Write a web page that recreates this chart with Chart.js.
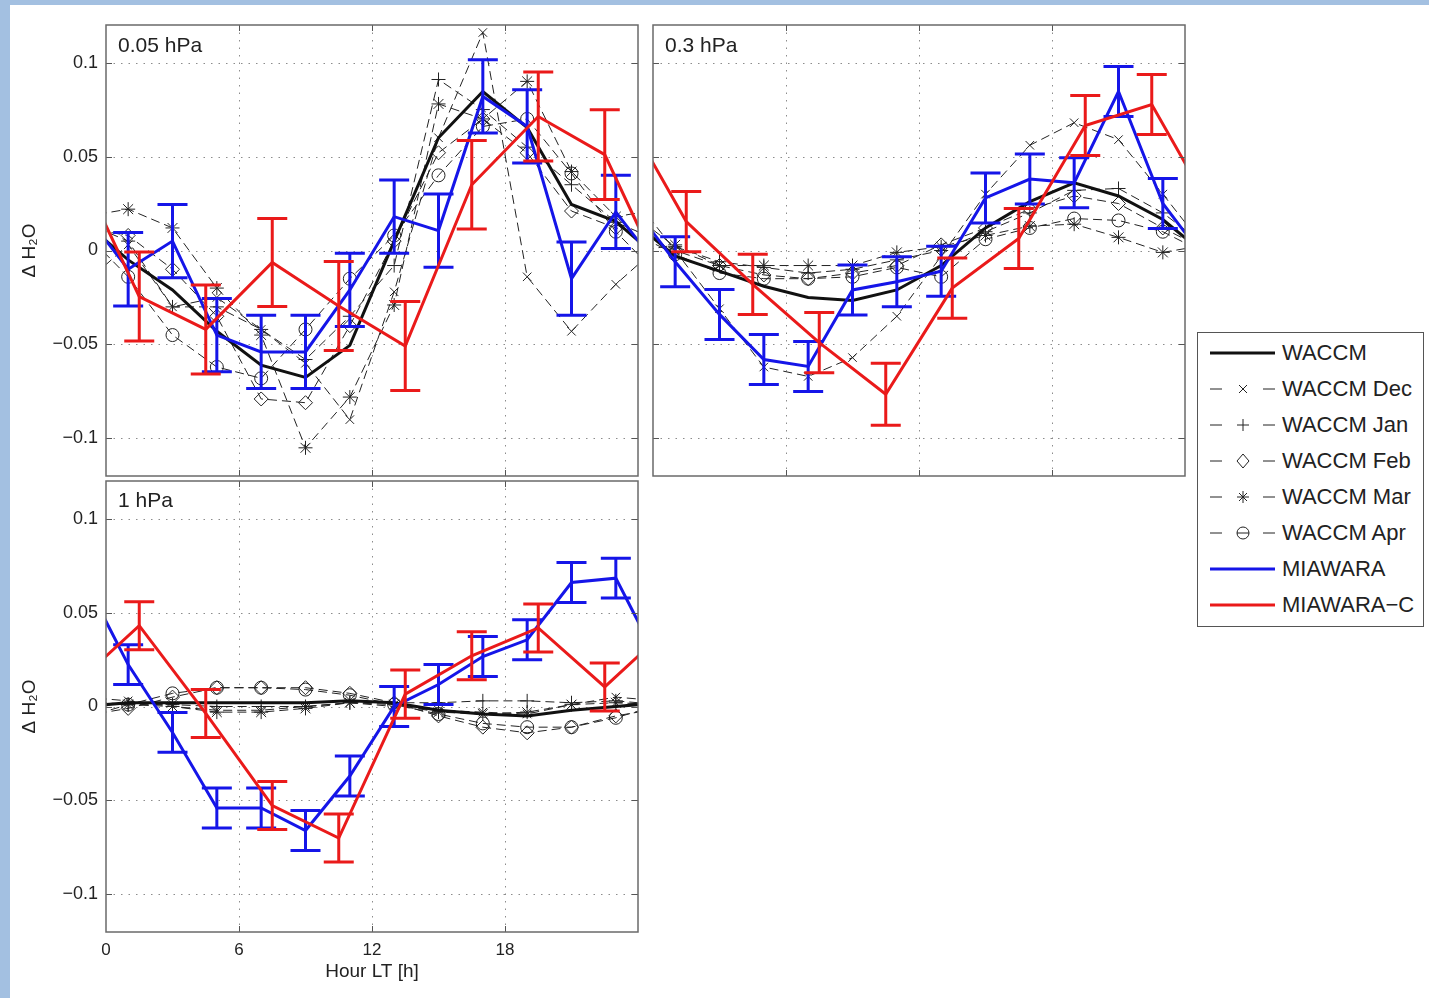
<!DOCTYPE html>
<html>
<head>
<meta charset="utf-8">
<script src="https://cdn.jsdelivr.net/npm/chart.js@4.4.1/dist/chart.umd.min.js"></script>
<style>
html, body { margin: 0; padding: 0; }
body { width: 1429px; height: 998px; background: #a3c0e1; position: relative; overflow: hidden;
       font-family: "Liberation Sans", Arial, sans-serif; color: #222; }
#sheet { position: absolute; left: 10px; top: 5px; right: 0; bottom: 0; background: #fff; }
canvas { position: absolute; }
.plabel { position: absolute; font-size: 21px; line-height: 24px; }
#legend { position: absolute; left: 1197px; top: 332px; width: 227px; height: 295px; box-sizing: border-box;
          border: 1px solid #555; background: #fff; }
#legend .row { position: absolute; left: 12px; height: 36px; display: flex; align-items: center;
               font-size: 22px; white-space: nowrap; }
#legend svg { display: block; margin-right: 2px; }
</style>
</head>
<body>
<div id="sheet"></div>
<canvas id="c05"></canvas>
<canvas id="c3"></canvas>
<canvas id="c1"></canvas>
<div class="plabel" style="left:118px; top:33px;">0.05 hPa</div>
<div class="plabel" style="left:665px; top:33px;">0.3 hPa</div>
<div class="plabel" style="left:118px; top:488px;">1 hPa</div>
<div id="legend"></div>

<script>
// hours of the samples
var hoursW = [1, 3, 5, 7, 9, 11, 13, 15, 17, 19, 21, 23];
var hoursC = [1.5, 4.5, 7.5, 10.5, 13.5, 16.5, 19.5, 22.5];
var yTicks = [-0.1, -0.05, 0, 0.05, 0.1];

// 0.05 hPa
var waccm05 = [-0.005, -0.021, -0.043, -0.061, -0.0675, -0.0505, 0.005, 0.060, 0.0846, 0.0654, 0.0245, 0.0155];
var dec05 = [0.003, -0.030, -0.025, -0.042, -0.060, -0.090, -0.022, 0.060, 0.116, -0.014, -0.043, -0.018];
var jan05 = [0.005, -0.030, -0.030, -0.042, -0.058, -0.035, -0.008, 0.091, 0.075, 0.055, 0.035, 0.015];
var feb05 = [0.008, -0.010, -0.035, -0.079, -0.081, -0.040, 0.005, 0.052, 0.070, 0.052, 0.021, 0.012];
var mar05 = [0.022, 0.012, -0.020, -0.045, -0.105, -0.078, -0.029, 0.078, 0.070, 0.090, 0.042, 0.018];
var apr05 = [-0.014, -0.045, -0.062, -0.068, -0.042, -0.015, 0.008, 0.040, 0.066, 0.070, 0.041, 0.010];
var mia05 = [-0.010, 0.005, -0.045, -0.054, -0.054, -0.021, 0.018, 0.0106, 0.082, 0.066, -0.015, 0.0205];
var mia05Err = [0.0196, 0.0195, 0.0195, 0.0195, 0.0195, 0.0195, 0.0195, 0.0195, 0.0195, 0.0195, 0.0195, 0.0195];
var miac05 = [-0.0245, -0.042, -0.0064, -0.0295, -0.0508, 0.035, 0.0713, 0.051];
var miac05Err = [0.0237, 0.0237, 0.0234, 0.0237, 0.0237, 0.0235, 0.0237, 0.0239];

// 0.3 hPa
var waccm3 = [-0.003, -0.011, -0.019, -0.025, -0.0266, -0.021, -0.008, 0.012, 0.026, 0.036, 0.029, 0.0165];
var dec3 = [0.000, -0.031, -0.062, -0.067, -0.057, -0.035, -0.003, 0.030, 0.056, 0.068, 0.059, 0.030];
var jan3 = [0.002, -0.006, -0.009, -0.012, -0.010, -0.005, 0.000, 0.010, 0.020, 0.032, 0.033, 0.020];
var feb3 = [0.000, -0.008, -0.013, -0.015, -0.012, -0.008, 0.003, 0.012, 0.022, 0.029, 0.025, 0.012];
var mar3 = [0.003, -0.008, -0.008, -0.008, -0.008, -0.001, 0.002, 0.008, 0.013, 0.014, 0.007, -0.001];
var apr3 = [-0.002, -0.012, -0.015, -0.015, -0.014, -0.009, -0.014, 0.006, 0.012, 0.017, 0.016, 0.010];
var mia3 = [-0.006, -0.034, -0.058, -0.0617, -0.021, -0.0166, -0.011, 0.028, 0.038, 0.036, 0.0846, 0.025];
var mia3Err = [0.0133, 0.0133, 0.0133, 0.0133, 0.0133, 0.0133, 0.0133, 0.0133, 0.0133, 0.0133, 0.0133, 0.0133];
var miac3 = [0.0154, -0.018, -0.049, -0.0765, -0.020, 0.0064, 0.0665, 0.0777];
var miac3Err = [0.016, 0.016, 0.016, 0.0165, 0.016, 0.016, 0.016, 0.016];

// 1 hPa
var waccm1 = [0.002, 0.002, 0.002, 0.002, 0.002, 0.003, 0.002, -0.002, -0.004, -0.005, -0.002, 0.000];
var dec1 = [0.003, 0.000, -0.002, -0.002, 0.000, 0.002, 0.000, -0.002, -0.003, -0.004, 0.001, 0.005];
var jan1 = [0.001, 0.001, 0.000, 0.000, 0.000, 0.002, 0.002, 0.002, 0.003, 0.003, 0.002, 0.003];
var feb1 = [-0.001, 0.005, 0.010, 0.010, 0.010, 0.007, 0.002, -0.005, -0.011, -0.014, -0.011, -0.005];
var mar1 = [0.001, 0.000, -0.003, -0.003, -0.001, 0.002, 0.001, -0.003, -0.004, -0.003, 0.001, 0.002];
var apr1 = [0.001, 0.007, 0.010, 0.010, 0.009, 0.006, 0.001, -0.004, -0.009, -0.011, -0.011, -0.006];
var mia1 = [0.0223, -0.0138, -0.054, -0.054, -0.066, -0.037, 0.000, 0.0117, 0.0266, 0.0355, 0.066, 0.0683];
var mia1Err = [0.0106, 0.0106, 0.0106, 0.0106, 0.0106, 0.0106, 0.0106, 0.0106, 0.0106, 0.0106, 0.0106, 0.0106];
var miac1 = [0.043, -0.0037, -0.0527, -0.070, 0.0066, 0.027, 0.0418, 0.0104];
var miac1Err = [0.0128, 0.0128, 0.0128, 0.0128, 0.0128, 0.0128, 0.0128, 0.0128];

var FONT = '"Liberation Sans", Arial, sans-serif';
var BLUE = '#1515e8';
var RED = '#ea1a1a';
var MONTH_COLOR = '#222';

var months = [
    { name: 'WACCM Dec', style: 'crossRot', r: 6 },
    { name: 'WACCM Jan', style: 'cross', r: 7 },
    { name: 'WACCM Feb', style: 'rectRot', r: 7 },
    { name: 'WACCM Mar', style: 'star', r: 7 },
    { name: 'WACCM Apr', style: 'circle', r: 6.5 }
];

// the day is periodic: repeat the last/first sample one day earlier/later
function periodic(hours, vals) {
    var n = hours.length;
    var pts = [{ x: hours[n - 1] - 24, y: vals[n - 1] }];
    hours.forEach(function (h, i) { pts.push({ x: h, y: vals[i] }); });
    pts.push({ x: hours[0] + 24, y: vals[0] });
    return pts;
}

function buildDatasets(waccm, monthVals, mia, miaErr, miac, miacErr) {
    var sets = [];
    sets.push({ data: periodic(hoursC, miac), errors: [null].concat(miacErr, [null]),
        borderColor: RED, borderWidth: 3, pointRadius: 0 });
    sets.push({ data: periodic(hoursW, mia), errors: [null].concat(miaErr, [null]),
        borderColor: BLUE, borderWidth: 3, pointRadius: 0 });
    sets.push({ data: periodic(hoursW, waccm), borderColor: '#111', borderWidth: 3, pointRadius: 0 });
    monthVals.forEach(function (vals, i) {
        sets.push({
            data: periodic(hoursW, vals),
            borderColor: MONTH_COLOR, borderWidth: 1, borderDash: [9, 5],
            pointStyle: months[i].style, pointRadius: months[i].r,
            pointBorderColor: MONTH_COLOR, pointBorderWidth: 1,
            pointBackgroundColor: 'rgba(0,0,0,0)'
        });
    });
    return sets;
}

var errorBars = {
    id: 'errorBars',
    afterDatasetDraw: function (chart, args) {
        var ds = chart.data.datasets[args.index];
        if (!ds.errors) return;
        var ctx = chart.ctx, a = chart.chartArea;
        var xs = chart.scales.x, ys = chart.scales.y;
        ctx.save();
        ctx.beginPath();
        ctx.rect(a.left, a.top, a.right - a.left, a.bottom - a.top);
        ctx.clip();
        ctx.strokeStyle = ds.borderColor;
        ctx.lineWidth = 3;
        ctx.setLineDash([]);
        ds.data.forEach(function (p, i) {
            var e = ds.errors[i];
            if (e == null) return;
            var x = xs.getPixelForValue(p.x);
            var y1 = ys.getPixelForValue(p.y - e);
            var y2 = ys.getPixelForValue(p.y + e);
            var w = 15;
            ctx.beginPath();
            ctx.moveTo(x, y1); ctx.lineTo(x, y2);
            ctx.moveTo(x - w, y1); ctx.lineTo(x + w, y1);
            ctx.moveTo(x - w, y2); ctx.lineTo(x + w, y2);
            ctx.stroke();
        });
        ctx.restore();
    }
};

// matlab style box: dotted grid, frame, inward ticks
var frame = {
    id: 'frame',
    beforeDatasetsDraw: function (chart) {
        var ctx = chart.ctx, a = chart.chartArea;
        var xs = chart.scales.x, ys = chart.scales.y;
        ctx.save();
        ctx.strokeStyle = '#8c8c8c';
        ctx.lineWidth = 1;
        ctx.setLineDash([1.5, 6]);
        [6, 12, 18].forEach(function (h) {
            var x = Math.round(xs.getPixelForValue(h)) + 0.5;
            ctx.beginPath(); ctx.moveTo(x, a.top); ctx.lineTo(x, a.bottom); ctx.stroke();
        });
        yTicks.forEach(function (v) {
            var y = Math.round(ys.getPixelForValue(v)) + 0.5;
            ctx.beginPath(); ctx.moveTo(a.left, y); ctx.lineTo(a.right, y); ctx.stroke();
        });
        ctx.restore();
    },
    afterDraw: function (chart) {
        var ctx = chart.ctx, a = chart.chartArea;
        var xs = chart.scales.x, ys = chart.scales.y;
        ctx.save();
        ctx.setLineDash([]);
        ctx.strokeStyle = '#555';
        ctx.lineWidth = 1;
        var t = 6;
        [6, 12, 18].forEach(function (h) {
            var x = Math.round(xs.getPixelForValue(h)) + 0.5;
            ctx.beginPath();
            ctx.moveTo(x, a.top); ctx.lineTo(x, a.top + t);
            ctx.moveTo(x, a.bottom); ctx.lineTo(x, a.bottom - t);
            ctx.stroke();
        });
        yTicks.forEach(function (v) {
            var y = Math.round(ys.getPixelForValue(v)) + 0.5;
            ctx.beginPath();
            ctx.moveTo(a.left, y); ctx.lineTo(a.left + t, y);
            ctx.moveTo(a.right, y); ctx.lineTo(a.right - t, y);
            ctx.stroke();
        });
        ctx.strokeStyle = '#6a6a6a';
        ctx.lineWidth = 1.5;
        ctx.strokeRect(a.left, a.top, a.right - a.left, a.bottom - a.top);
        ctx.restore();
    }
};

function fmtY(v) {
    if (Math.abs(v) < 1e-9) return '0';
    return (v < 0 ? '\u2212' : '') + String(Math.round(Math.abs(v) * 1000) / 1000);
}

var PAD = 25;

function makePanel(id, box, datasets, showX, showY) {
    var yw = showY ? box.left - 10 : 8;
    var xh = showX ? 55 : PAD;
    var canvas = document.getElementById(id);
    canvas.width = yw + (box.right - box.left) + 10;
    canvas.height = PAD + (box.bottom - box.top) + xh;
    canvas.style.left = (box.left - yw) + 'px';
    canvas.style.top = (box.top - PAD) + 'px';
    return new Chart(canvas.getContext('2d'), {
        type: 'line',
        data: { datasets: datasets },
        options: {
            responsive: false,
            animation: false,
            events: [],
            layout: { padding: { left: 0, top: PAD, right: 10, bottom: 0 } },
            elements: { line: { tension: 0 } },
            plugins: { legend: { display: false }, tooltip: { enabled: false } },
            scales: {
                x: {
                    type: 'linear', min: 0, max: 24,
                    grid: { display: false, drawTicks: false },
                    border: { display: false },
                    ticks: {
                        display: showX, stepSize: 6, padding: 8, color: '#222',
                        maxRotation: 0, autoSkip: false,
                        font: { size: 17, family: FONT },
                        callback: function (v) { return v === 24 ? '' : String(v); }
                    },
                    title: {
                        display: showX, text: 'Hour LT [h]', color: '#222',
                        font: { size: 19, family: FONT }, padding: { top: 4, bottom: 4 }
                    },
                    afterFit: function (s) { s.height = xh; }
                },
                y: {
                    type: 'linear', min: -0.12, max: 0.12,
                    grid: { display: false, drawTicks: false },
                    border: { display: false },
                    afterBuildTicks: function (s) {
                        s.ticks = yTicks.map(function (v) { return { value: v }; });
                    },
                    ticks: {
                        display: showY, padding: 8, color: '#222',
                        font: { size: 18, family: FONT },
                        callback: fmtY
                    },
                    title: {
                        display: showY, text: 'Δ H₂O', color: '#222',
                        font: { size: 19, family: FONT }, padding: { top: 8, bottom: 4 }
                    },
                    afterFit: function (s) { s.width = yw; }
                }
            }
        },
        plugins: [frame, errorBars]
    });
}

makePanel('c05', { left: 106, top: 25, right: 638, bottom: 476 },
    buildDatasets(waccm05, [dec05, jan05, feb05, mar05, apr05], mia05, mia05Err, miac05, miac05Err), false, true);
makePanel('c3', { left: 653, top: 25, right: 1185, bottom: 476 },
    buildDatasets(waccm3, [dec3, jan3, feb3, mar3, apr3], mia3, mia3Err, miac3, miac3Err), false, false);
makePanel('c1', { left: 106, top: 481, right: 638, bottom: 932 },
    buildDatasets(waccm1, [dec1, jan1, feb1, mar1, apr1], mia1, mia1Err, miac1, miac1Err), true, true);

// legend
function markerSvg(style, cx, cy) {
    var s = 'stroke="' + MONTH_COLOR + '" stroke-width="1" fill="none"';
    if (style === 'crossRot') return '<path d="M' + (cx - 4) + ' ' + (cy - 4) + 'L' + (cx + 4) + ' ' + (cy + 4) + 'M' + (cx - 4) + ' ' + (cy + 4) + 'L' + (cx + 4) + ' ' + (cy - 4) + '" ' + s + '/>';
    if (style === 'cross') return '<path d="M' + (cx - 6) + ' ' + cy + 'H' + (cx + 6) + 'M' + cx + ' ' + (cy - 6) + 'V' + (cy + 6) + '" ' + s + '/>';
    if (style === 'rectRot') return '<path d="M' + cx + ' ' + (cy - 7) + 'L' + (cx + 6) + ' ' + cy + 'L' + cx + ' ' + (cy + 7) + 'L' + (cx - 6) + ' ' + cy + 'Z" ' + s + '/>';
    if (style === 'star') return '<path d="M' + (cx - 6) + ' ' + cy + 'H' + (cx + 6) + 'M' + cx + ' ' + (cy - 6) + 'V' + (cy + 6) + 'M' + (cx - 4) + ' ' + (cy - 4) + 'L' + (cx + 4) + ' ' + (cy + 4) + 'M' + (cx - 4) + ' ' + (cy + 4) + 'L' + (cx + 4) + ' ' + (cy - 4) + '" ' + s + '/>';
    return '<circle cx="' + cx + '" cy="' + cy + '" r="6" ' + s + '/><path d="M' + (cx - 6) + ' ' + cy + 'H' + (cx + 6) + '" ' + s + '/>';
}

var legendItems = [{ name: 'WACCM', color: '#111' }]
    .concat(months)
    .concat([{ name: 'MIAWARA', color: BLUE }, { name: 'MIAWARA\u2212C', color: RED }]);

var legend = document.getElementById('legend');
legendItems.forEach(function (it, i) {
    var svg;
    if (it.style) {
        svg = '<svg width="70" height="20"><path d="M0 10H12M53 10H65" stroke="' + MONTH_COLOR + '" stroke-width="1"/>' +
            markerSvg(it.style, 33, 10) + '</svg>';
    } else {
        svg = '<svg width="70" height="20"><path d="M0 10H65" stroke="' + it.color + '" stroke-width="3"/></svg>';
    }
    var row = document.createElement('div');
    row.className = 'row';
    row.style.top = (2 + 36 * i) + 'px';
    row.innerHTML = svg + '<span>' + it.name + '</span>';
    legend.appendChild(row);
});
</script>
</body>
</html>
